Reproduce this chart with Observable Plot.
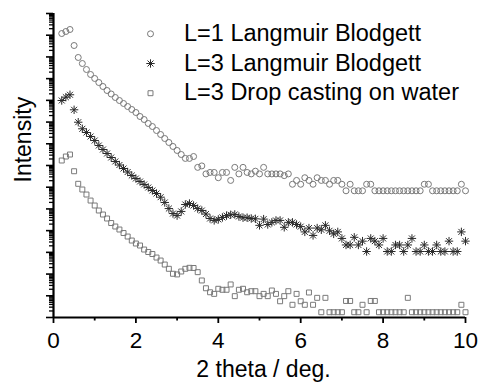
<!DOCTYPE html>
<html>
<head>
<meta charset="utf-8">
<script src="https://cdn.jsdelivr.net/npm/d3@7"></script>
<script src="https://cdn.jsdelivr.net/npm/@observablehq/plot@0.6"></script>
<style>
  body { margin: 0; background: #fff; }
  #chart svg { display: block; }
</style>
</head>
<body>
<div id="chart"></div>
<script>
// Scattering angle grid (deg.), shared by all three patterns
const twoTheta = [
  0.2, 0.3, 0.4, 0.5, 0.6, 0.7, 0.8, 0.9, 1.0, 1.1,
  1.2, 1.3, 1.4, 1.5, 1.6, 1.7, 1.8, 1.9, 2.0, 2.1,
  2.2, 2.3, 2.4, 2.5, 2.6, 2.7, 2.8, 2.9, 3.0, 3.1,
  3.2, 3.3, 3.4, 3.5, 3.6, 3.7, 3.8, 3.9, 4.0, 4.1,
  4.2, 4.3, 4.4, 4.5, 4.6, 4.7, 4.8, 4.9, 5.0, 5.1,
  5.2, 5.3, 5.4, 5.5, 5.6, 5.7, 5.8, 5.9, 6.0, 6.1,
  6.2, 6.3, 6.4, 6.5, 6.6, 6.7, 6.8, 6.9, 7.0, 7.1,
  7.2, 7.3, 7.4, 7.5, 7.6, 7.7, 7.8, 7.9, 8.0, 8.1,
  8.2, 8.3, 8.4, 8.5, 8.6, 8.7, 8.8, 8.9, 9.0, 9.1,
  9.2, 9.3, 9.4, 9.5, 9.6, 9.7, 9.8, 9.9, 10.0
];

// Counts, L=1 Langmuir Blodgett
const lb1 = [
  1.75e7, 2.17e7, 2.68e7, 4.91e6, 1.38e6, 7.28e5, 3.86e5, 2.27e5, 1.49e5, 9.7e4,
  6.36e4, 4.16e4, 2.87e4, 1.98e4, 1.44e4, 1.05e4, 7620, 5550, 4040, 2640,
  1920, 1260, 914, 598, 392, 256, 168, 110, 72, 47,
  31, 31, 38, 12, 14, 6, 7, 7, 4, 7,
  7, 3, 12, 6, 12, 7, 6, 8, 6, 12,
  6, 6, 6, 6, 5, 6, 2, 3, 2, 4,
  3, 2, 4, 3, 3, 2, 3, 3, 2, 1,
  2, 1, 1, 1, 2, 2, 1, 1, 1, 1,
  1, 1, 1, 1, 1, 1, 1, 1, 2, 2,
  1, 1, 1, 1, 1, 1, 1, 2, 1
];

// Counts, L=3 Langmuir Blodgett
const lb3 = [
  9.0e6, 1.28e7, 1.65e7, 3.36e6, 9.0e5, 4.48e5, 3.02e5, 1.98e5, 1.29e5, 7.62e4,
  4.98e4, 3.26e4, 2.13e4, 1.40e4, 9600, 6640, 4580, 3160, 2300, 1670,
  1220, 886, 645, 469, 317, 181, 95, 56, 45, 70,
  146, 162, 131, 95, 77, 53, 33, 27, 30, 37,
  45, 49, 51, 41, 36, 36, 33, 32, 16, 31,
  17.5, 22, 27, 27, 13, 22, 22, 17.5, 14, 8,
  12, 5.5, 12, 10, 16, 9, 6.5, 8, 4, 2,
  2, 4.5, 2, 3, 1, 4, 3, 2, 4, 1,
  1, 2, 2, 1, 2, 4, 1, 1, 2, 1,
  1, 2, 1, 1, 3, 1, 1, 8, 3
];

// Counts, L=3 drop casting on water
const drop3 = [
  9.7e6, 1.48e7, 1.83e7, 3.11e6, 8.2e5, 4.48e5, 2.63e5, 1.39e5, 8.2e4, 4.83e4,
  3.16e4, 2.07e4, 1.28e4, 8850, 6440, 4440, 3060, 2000, 1460, 1180,
  772, 592, 479, 330, 240, 157, 100, 59, 55, 75,
  100, 111, 109, 70, 29, 12.7, 8.3, 7, 12, 10.8,
  10.8, 19, 5.5, 10.8, 12, 8.3, 9.3, 9.3, 5.5, 7,
  5.5, 10, 7, 3.2, 5.5, 9.3, 2.2, 7, 3.2, 2.2,
  8.1, 2.2, 4.6, 1, 4.6, 1, 1, 1, 1, 3.3,
  3.3, 1, 1, 2.2, 1, 3.3, 3.3, 1, 1, 1,
  1, 1, 1, 1, 4.6, 1, 1, 1, 1, 1,
  1, 1, 1, 1, 1, 1, 1, 2.2, 1
];

// Vertical offsets separating the patterns on the log axis
const offsets = [6.84e5, 1095, 1.75];
const seriesNames = ["L=1 Langmuir Blodgett", "L=3 Langmuir Blodgett", "L=3 Drop casting on water"];

// Eight-armed star marker
const star = {
  draw(context, size) {
    const r = Math.sqrt(size / Math.PI);
    const d = r * Math.SQRT1_2;
    context.moveTo(0, -r); context.lineTo(0, r);
    context.moveTo(-r, 0); context.lineTo(r, 0);
    context.moveTo(-d, -d); context.lineTo(d, d);
    context.moveTo(-d, d); context.lineTo(d, -d);
  }
};

const seriesSymbols = ["circle", star, "square"];
const seriesStrokes = ["#7a7a7a", "#2a2a2a", "#7a7a7a"];
const seriesRadius = [3.0, 4.2, 2.8];
const seriesStrokeWidth = [1, 1, 1];

const xMajorTicks = [0, 2, 4, 6, 8, 10];
const xMinorTicks = [1, 3, 5, 7, 9];
const xTitle = "2 theta / deg.";
const yTitle = "Intensity";

const decadeTicks = d3.range(0, 15).map(n => 10 ** n);
const subDecadeTicks = d3.range(0, 14).flatMap(n => d3.range(2, 10).map(k => k * 10 ** n));

const patterns = [lb1, lb3, drop3].map((vals, s) =>
  vals.map((v, i) => ({angle: twoTheta[i], intensity: v * offsets[s]}))
);

const font = "'Liberation Sans', Arial, sans-serif";

const markStyle = s => ({
  symbol: seriesSymbols[s], r: seriesRadius[s],
  fill: "none", stroke: seriesStrokes[s], strokeWidth: seriesStrokeWidth[s]
});

const dataMarks = patterns.map((rows, s) =>
  Plot.dot(rows, {x: "angle", y: "intensity", ...markStyle(s)})
);

// Legend inside the frame, upper right
const legendMarks = seriesNames.flatMap((name, s) => [
  Plot.dot([name], {frameAnchor: "top-left", dx: 97, dy: 20.3 + 29.7 * s, ...markStyle(s)}),
  Plot.text([name], {
    frameAnchor: "top-left", dx: 130.5, dy: 20.3 + 29.2 * s,
    text: d => d, textAnchor: "start", lineAnchor: "middle",
    fontSize: 23.5, fill: "#000"
  })
]);

const chart = Plot.plot({
  width: 480,
  height: 383,
  marginLeft: 53,
  marginRight: 15,
  marginTop: 13,
  marginBottom: 66,
  style: {fontFamily: font, fontSize: "22px", color: "#000", background: "#fff", overflow: "visible"},
  x: {domain: [0, 10]},
  y: {type: "log", domain: [1, 1e14]},
  marks: [
    Plot.axisX(xMajorTicks, {tickSize: 6, tickPadding: 8.5, strokeWidth: 1.8, fontSize: 22.5, label: null}),
    Plot.axisX(xMinorTicks, {tickSize: 3.5, strokeWidth: 1.8, tickFormat: () => "", label: null}),
    Plot.axisY(decadeTicks, {tickSize: 7, strokeWidth: 1.6, tickFormat: () => "", label: null}),
    Plot.axisY(subDecadeTicks, {tickSize: 4, strokeWidth: 1.3, tickFormat: () => "", label: null}),
    Plot.ruleY([1], {stroke: "#000", strokeWidth: 2.2}),
    Plot.ruleX([0], {stroke: "#000", strokeWidth: 2.2}),
    Plot.text([xTitle], {
      frameAnchor: "bottom", dx: 4, dy: 52.5, text: d => d,
      lineAnchor: "middle", fontSize: 23, fill: "#000"
    }),
    Plot.text([yTitle], {
      frameAnchor: "left", dx: -30, dy: 17, rotate: -90, text: d => d,
      lineAnchor: "middle", fontSize: 23, fill: "#000"
    }),
    ...dataMarks,
    ...legendMarks
  ]
});

document.getElementById("chart").append(chart);
</script>
</body>
</html>
